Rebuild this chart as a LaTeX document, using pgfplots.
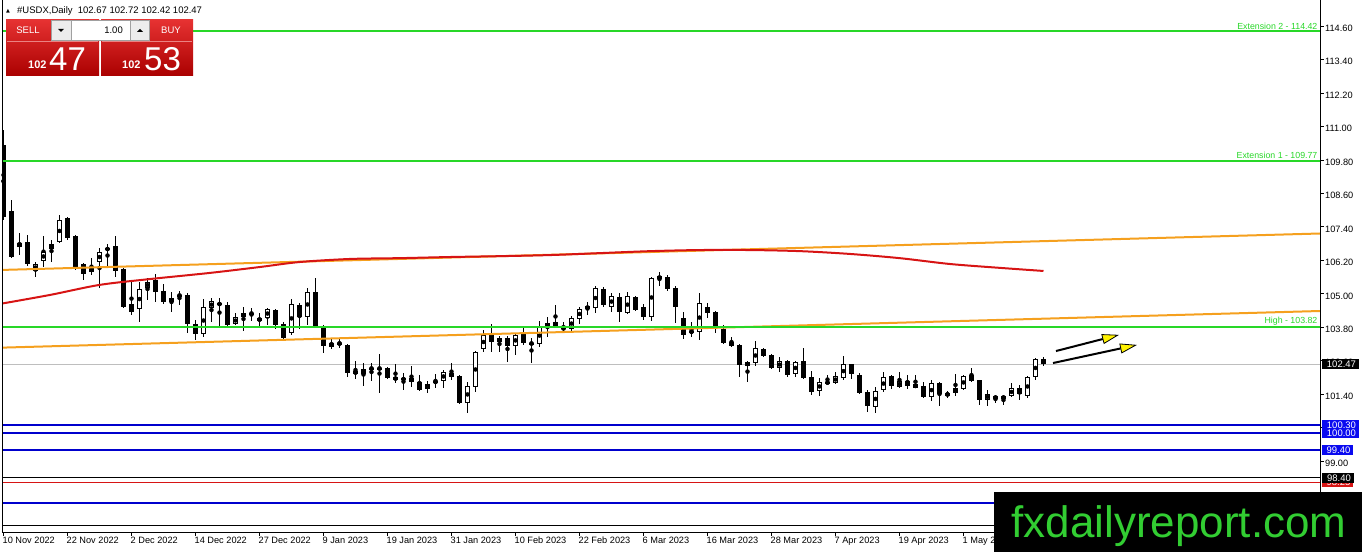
\documentclass[border=0pt]{standalone}
\usepackage{pgfplots}
\pgfplotsset{compat=1.18}
\usepackage{pgfplotstable}
\usepackage{fontspec}
\setmainfont{Liberation Sans}
\newfontfamily\dejavu{DejaVu Sans}
\usetikzlibrary{arrows.meta}
\definecolor{lvgreen}{RGB}{40,215,40}
\definecolor{lvblue}{RGB}{0,0,205}
\definecolor{boxblue}{RGB}{10,10,240}
\definecolor{chanor}{RGB}{245,160,30}
\definecolor{mared}{RGB}{215,20,20}
\definecolor{wmgreen}{RGB}{50,205,50}
\definecolor{bidgrey}{RGB}{190,190,190}
\definecolor{btntop}{RGB}{230,50,50}
\definecolor{btnbot}{RGB}{170,0,0}
\definecolor{btnsep}{RGB}{235,130,130}
\definecolor{ctlgrey}{RGB}{236,236,236}
\definecolor{ctlborder}{RGB}{160,160,160}

\pgfplotstableread{
i O H L C
0 110.33 110.87 107.65 107.75
1 107.97 108.36 106.30 106.32
2 106.68 107.18 106.39 106.82
3 106.86 107.11 106.00 106.07
4 105.82 106.14 105.60 106.07
5 106.18 107.07 105.96 106.50
6 106.61 106.93 106.14 106.79
7 106.86 107.83 106.82 107.65
8 107.72 107.74 106.93 107.00
9 107.07 107.11 105.85 105.96
10 106.07 106.09 105.50 105.71
11 105.78 106.28 105.67 105.96
12 106.14 106.64 105.21 106.50
13 106.57 106.79 105.96 106.64
14 106.71 107.07 105.60 105.82
15 105.89 105.91 104.49 104.53
16 104.64 105.42 104.24 104.35
17 104.46 105.42 103.99 105.17
18 105.21 105.57 104.78 105.42
19 105.50 105.71 104.71 105.07
20 105.10 105.35 104.64 104.71
21 104.71 105.07 104.35 104.85
22 104.96 105.10 104.60 104.92
23 104.96 105.03 103.60 103.92
24 103.92 104.06 103.35 103.56
25 103.56 104.82 103.45 104.53
26 104.49 104.85 103.99 104.74
27 104.67 104.85 103.81 104.60
28 104.60 104.71 103.80 103.88
29 103.92 104.31 103.88 104.17
30 104.17 104.53 103.67 104.31
31 104.31 104.49 104.03 104.28
32 104.03 104.31 103.85 104.13
33 104.13 104.49 103.88 104.46
34 104.42 104.44 103.74 103.88
35 103.92 103.99 103.38 103.42
36 103.60 104.82 103.53 104.64
37 104.60 104.67 103.74 104.17
38 104.17 105.21 103.88 105.07
39 105.07 105.57 103.83 103.85
40 103.78 103.88 102.88 103.13
41 103.10 103.38 103.02 103.24
42 103.24 103.38 103.06 103.20
43 103.17 103.19 102.02 102.16
44 102.23 102.59 101.95 102.13
45 102.13 102.52 101.70 102.31
46 102.34 102.52 101.88 102.31
47 102.34 102.84 101.45 102.31
48 102.34 102.38 101.95 101.98
49 102.02 102.48 101.80 101.91
50 101.91 102.16 101.55 101.98
51 101.98 102.41 101.66 101.84
52 101.84 102.09 101.52 101.55
53 101.59 101.88 101.45 101.77
54 101.80 102.13 101.63 101.88
55 101.88 102.27 101.63 102.20
56 102.16 102.52 101.91 102.02
57 102.06 102.09 101.06 101.09
58 101.09 101.84 100.73 101.70
59 101.66 102.94 101.48 102.92
60 103.02 103.71 102.92 103.53
61 103.53 103.92 102.92 103.27
62 103.27 103.49 102.92 103.42
63 103.42 103.49 102.56 103.13
64 103.13 103.60 102.81 103.53
65 103.63 103.78 103.17 103.24
66 103.24 103.42 102.52 103.20
67 103.20 104.03 103.10 103.81
68 103.78 104.17 103.45 103.96
69 103.99 104.60 103.78 103.85
70 103.78 103.99 103.63 103.74
71 103.74 104.21 103.67 104.13
72 104.10 104.53 103.92 104.46
73 104.46 104.71 104.24 104.56
74 104.49 105.28 104.31 105.21
75 105.17 105.25 104.53 104.60
76 104.53 105.03 104.35 104.92
77 104.89 105.03 103.99 104.35
78 104.31 105.07 104.28 104.92
79 104.89 104.91 104.38 104.42
80 104.53 104.64 104.06 104.17
81 104.17 105.60 104.03 105.57
82 105.53 105.78 105.28 105.64
83 105.60 105.67 105.10 105.17
84 105.21 105.28 103.96 104.53
85 104.13 104.35 103.38 103.53
86 103.65 103.99 103.45 103.63
87 103.63 105.03 103.35 104.67
88 104.53 104.67 104.13 104.31
89 104.35 104.37 103.60 103.85
90 103.74 103.88 103.22 103.24
91 103.27 103.45 103.10 103.13
92 103.17 103.19 102.02 102.45
93 102.41 102.59 101.84 102.56
94 102.52 103.31 102.41 103.06
95 103.02 103.06 102.74 102.77
96 102.81 102.83 102.31 102.34
97 102.34 102.74 102.20 102.59
98 102.59 102.63 102.02 102.09
99 102.13 102.59 102.02 102.56
100 102.59 103.06 101.95 101.98
101 102.02 102.23 101.37 101.48
102 101.52 101.98 101.34 101.84
103 101.84 102.09 101.77 101.80
104 101.80 102.20 101.77 102.06
105 101.98 102.77 101.91 102.48
106 102.48 102.50 101.95 102.13
107 102.09 102.16 101.41 101.45
108 101.48 101.55 100.77 100.98
109 100.95 101.66 100.73 101.52
110 101.55 102.20 101.48 102.02
111 102.06 102.08 101.59 101.70
112 101.66 102.20 101.63 101.88
113 101.88 102.09 101.59 101.70
114 101.77 102.09 101.61 101.63
115 101.70 101.84 101.27 101.30
116 101.30 101.91 101.16 101.80
117 101.80 101.84 100.98 101.41
118 101.34 101.52 101.27 101.45
119 101.45 102.13 101.34 101.63
120 101.59 102.09 101.55 102.06
121 102.09 102.34 101.84 101.88
122 101.91 101.93 101.02 101.20
123 101.20 101.55 100.98 101.41
124 101.34 101.37 101.09 101.23
125 101.23 101.37 101.02 101.34
126 101.34 101.80 101.30 101.63
127 101.63 101.73 101.20 101.41
128 101.34 102.06 101.27 102.02
129 102.02 102.70 101.91 102.67
130 102.67 102.72 102.42 102.47
}\candles

\pgfplotstableread{
x y
-0.44 104.64
5.8 104.96
12 105.32
18.3 105.53
25.8 105.75
32 105.96
37 106.14
43.3 106.25
49.6 106.28
55.8 106.32
62 106.35
68.3 106.39
74.6 106.46
80.8 106.53
87 106.57
93.3 106.57
99.6 106.53
105.8 106.43
112 106.28
118.3 106.07
124.6 105.93
130 105.82
}\matable

\begin{document}
\begin{tikzpicture}
\begin{axis}[
  at={(2pt,20pt)}, anchor=south west,
  scale only axis, width=1318pt, height=532pt,
  xmin=-0.1875, xmax=164.5625, ymin=96.464, ymax=115.532,
  clip mode=individual,
  axis x line*=bottom, axis y line*=right,
  x axis line style={-}, y axis line style={-},
  axis line style={black, line width=0.8pt},
  tick align=outside, major tick length=4pt,
  tick style={black, line width=0.8pt},
  xtick={0,8,16,24,32,40,48,56,64,72,80,88,96,104,112,120},
  xticklabels={10 Nov 2022,22 Nov 2022,2 Dec 2022,14 Dec 2022,27 Dec 2022,9 Jan 2023,19 Jan 2023,31 Jan 2023,10 Feb 2023,22 Feb 2023,6 Mar 2023,16 Mar 2023,28 Mar 2023,7 Apr 2023,19 Apr 2023,1 May 2023},
  xticklabel style={font=\fontsize{9.2}{10}\selectfont, anchor=north west, inner sep=0pt, xshift=-1pt, yshift=-1pt},
  ytick={97.8,99,100.2,101.4,102.6,103.8,105,106.2,107.4,108.6,109.8,111,112.2,113.4,114.6},
  yticklabel={\pgfmathprintnumber[fixed,fixed zerofill,precision=2]{\tick}},
  yticklabel style={font=\fontsize{9.2}{10}\selectfont, anchor=west, inner sep=0pt, xshift=1pt, yshift=-2pt},
  /pgf/number format/assume math mode=true,
]
% bid line
\addplot[bidgrey, line width=1pt, forget plot] coordinates {(-1,102.47) (166,102.47)};
% wicks
\addplot[forget plot, only marks, mark=none,
  error bars/.cd, y dir=both, y explicit, error mark=none,
  error bar style={draw=black, line width=1pt}]
  table[x=i, y expr={(\thisrow{H}+\thisrow{L})/2}, y error expr={(\thisrow{H}-\thisrow{L})/2}] {\candles};
% bodies
\addplot[forget plot, only marks, mark=none,
  error bars/.cd, y dir=both, y explicit, error mark=none,
  error bar style={draw=black, line width=5pt, line cap=butt}]
  table[x=i, y expr={(\thisrow{O}+\thisrow{C})/2}, y error expr={max(abs(\thisrow{O}-\thisrow{C})/2,0.018)}] {\candles};
\addplot[forget plot, only marks, mark=none,
  error bars/.cd, y dir=both, y explicit, error mark=none,
  error bar style={draw=white, line width=3pt, line cap=butt}]
  table[x=i, y expr={(\thisrow{O}+\thisrow{C})/2}, y error expr={max((\thisrow{C}-\thisrow{O})/2-0.036,0)}] {\candles};
% channel and MA
\addplot[chanor, line width=2pt] coordinates {(-0.44,105.855) (164.56,107.163)};
\addplot[chanor, line width=2pt] coordinates {(-0.44,103.07) (164.56,104.385)};
\addplot[mared, line width=2pt, smooth] table[x=x,y=y] {\matable};
% levels
\addplot[lvgreen, line width=2pt] coordinates {(-1,114.42) (166,114.42)};
\addplot[lvgreen, line width=2pt] coordinates {(-1,109.77) (166,109.77)};
\addplot[lvgreen, line width=2pt] coordinates {(-1,103.82) (166,103.82)};
\addplot[lvblue, line width=2pt] coordinates {(-1,100.30) (166,100.30)};
\addplot[lvblue, line width=2pt] coordinates {(-1,100.00) (166,100.00)};
\addplot[lvblue, line width=2pt] coordinates {(-1,99.40) (166,99.40)};
\addplot[black, line width=1pt] coordinates {(-1,98.40) (166,98.40)};
\addplot[mared, line width=1pt] coordinates {(-1,98.25) (166,98.25)};
\addplot[lvblue, line width=2pt] coordinates {(-1,97.51) (166,97.51)};
\addplot[black, line width=1pt] coordinates {(-1,96.71) (166,96.71)};
% level texts
\node[anchor=south east, text=lvgreen, font=\fontsize{8.8}{9}\selectfont, inner sep=1.5pt] at (axis cs:164.45,114.42) {Extension 2 - 114.42};
\node[anchor=south east, text=lvgreen, font=\fontsize{8.8}{9}\selectfont, inner sep=1.5pt] at (axis cs:164.45,109.77) {Extension 1 - 109.77};
\node[anchor=south east, text=lvgreen, font=\fontsize{8.8}{9}\selectfont, inner sep=1.5pt] at (axis cs:164.45,103.82) {High - 103.82};
% arrows
\draw[black, line width=2pt, -{Triangle[length=17pt, width=10pt, fill=yellow, line width=0.8pt]}] (axis cs:131.56,102.95) -- (axis cs:139.44,103.53);
\draw[black, line width=2pt, -{Triangle[length=17pt, width=10pt, fill=yellow, line width=0.8pt]}] (axis cs:131.19,102.52) -- (axis cs:141.69,103.17);
% coordinates for right-hand boxes
\coordinate (b10247) at (axis cs:164.5625,102.47);
\coordinate (b10030) at (axis cs:164.5625,100.30);
\coordinate (b10000) at (axis cs:164.5625,100.00);
\coordinate (b9940) at (axis cs:164.5625,99.40);
\coordinate (b9840) at (axis cs:164.5625,98.40);
\coordinate (b9825) at (axis cs:164.5625,98.25);
\coordinate (lb) at (rel axis cs:0,0);
\coordinate (lt) at (rel axis cs:0,1);
\end{axis}
\draw[black, line width=0.8pt] (lb) -- (lt);
\begin{scope}[every node/.style={anchor=west, inner sep=0pt, text=white, font=\fontsize{9.5}{10}\selectfont}]
\node[fill=black, minimum width=37pt, minimum height=10pt, xshift=2pt] at (b10247) {\,102.47};
\node[fill=boxblue, minimum width=37pt, minimum height=9pt, xshift=2pt] at (b10030) {\,100.30};
\node[fill=boxblue, minimum width=37pt, minimum height=9pt, xshift=2pt] at (b10000) {\,100.00};
\node[fill=boxblue, minimum width=31pt, minimum height=10pt, xshift=2pt] at (b9940) {\,99.40};
\node[fill=mared, minimum width=31pt, minimum height=10pt, xshift=2pt] at (b9825) {\,98.25};
\node[fill=black, minimum width=32pt, minimum height=10pt, xshift=2pt] at (b9840) {\,98.40};
\end{scope}
\begin{scope}[x=1pt,y=1pt]
% title
\node[anchor=west, inner sep=0pt, font=\dejavu\fontsize{5}{6}\selectfont] at (6,541) {▲};
\node[anchor=west, inner sep=0pt, font=\fontsize{9.5}{10}\selectfont] at (17,541) {\#USDX,Daily\ \ 102.67 102.72 102.42 102.47};
% trade widget
\shade[top color=btntop, bottom color=btnbot] (6,476) rectangle (99,532);
\shade[top color=btntop, bottom color=btnbot] (101,476) rectangle (193,532);
\draw[btnsep, line width=0.8pt] (7,510.5) -- (98,510.5);
\draw[btnsep, line width=0.8pt] (102,510.5) -- (192,510.5);
\fill[ctlgrey] (51,512) rectangle (71,532);
\fill[white] (71,512) rectangle (130,532);
\fill[ctlgrey] (130,512) rectangle (149,532);
\draw[ctlborder, line width=0.6pt] (51,512) rectangle (149,532);
\draw[ctlborder, line width=0.6pt] (71,512) -- (71,532) (130,512) -- (130,532);
\fill[black] (58,523) -- (64,523) -- (61,520) -- cycle;
\fill[black] (137,520) -- (143,520) -- (140,523) -- cycle;
\node[anchor=east, inner sep=0pt, font=\fontsize{9.5}{10}\selectfont] at (123,522) {1.00};
\node[inner sep=0pt, text=white, font=\fontsize{9.5}{10}\selectfont] at (28,521.5) {SELL};
\node[inner sep=0pt, text=white, font=\fontsize{9.5}{10}\selectfont] at (171,521.5) {BUY};
\node[anchor=base west, inner sep=0pt, text=white, font=\bfseries\fontsize{11}{12}\selectfont] at (28,483) {102};
\node[anchor=base west, inner sep=0pt, text=white, font=\fontsize{33}{34}\selectfont] at (49,481) {47};
\node[anchor=base west, inner sep=0pt, text=white, font=\bfseries\fontsize{11}{12}\selectfont] at (122,483) {102};
\node[anchor=base west, inner sep=0pt, text=white, font=\fontsize{33}{34}\selectfont] at (144,481) {53};
% watermark
\fill[black] (994,0) rectangle (1362,60);
\node[anchor=base, inner sep=0pt, text=wmgreen, font=\fontsize{44}{46}\selectfont] at (1179,15) {fxdailyreport.com};
\end{scope}
\pgfresetboundingbox
\useasboundingbox (0,0) rectangle (1362pt,552pt);
\end{tikzpicture}
\end{document}
